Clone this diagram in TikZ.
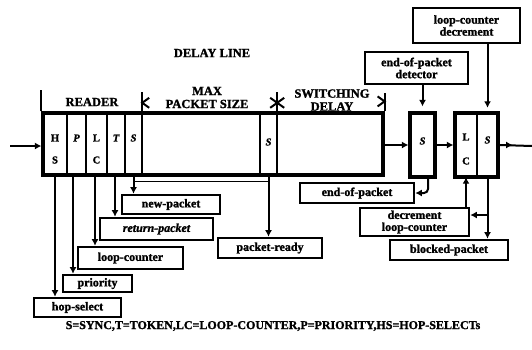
\documentclass[tikz,border=0pt]{standalone}
\usepackage{fontspec}
\setmainfont{Liberation Serif}[BoldFeatures={FakeBold=1.5},BoldItalicFeatures={FakeBold=1.5}]
\usetikzlibrary{arrows.meta,calc}
\begin{document}
\begin{tikzpicture}[x=1pt,y=-1pt,
  txt/.style={font=\fontsize{12.5}{13}\selectfont\bfseries,inner sep=0pt,align=center},
  ltxt/.style={font=\fontsize{12}{12}\selectfont\bfseries,inner sep=0pt,align=center},
  lbl/.style={ltxt,draw,line width=2.6pt,minimum width=#1},
  blk/.style={draw,line width=3.2pt,inner sep=0pt},
  cell/.style={inner sep=0pt,minimum height=62pt,minimum width=#1},
  div/.style={line width=1.9pt},
  conn/.style={line width=2pt},
  arr/.style={line width=2pt,-{Latex[length=6.5pt,width=7pt]}},
  tip/.style={line width=2pt},
  letter/.style={font=\fontsize{10.5}{11}\selectfont\bfseries,inner sep=0pt}]
\useasboundingbox (0,0) rectangle (532,349);

% ---- main delay line box
\node[blk,minimum width=340pt,minimum height=62pt] (main) at (213,144) {};
\node[cell=24pt] (hs) at (55,144) {};
\node[cell=19pt] (p)  at (76.5,144) {};
\node[cell=21pt] (lc) at (96.5,144) {};
\node[cell=18pt] (t)  at (116,144) {};
\node[cell=17pt] (s1) at (133.5,144) {};
\node[cell=17pt] (s2) at (268.5,144) {};
\foreach \c in {hs,p,lc,t,s1} \draw[div] (\c.north east) -- (\c.south east);
\draw[div] (s2.north west) -- (s2.south west);
\draw[div] (s2.north east) -- (s2.south east);

\node[letter] (lH) at (55,138) {H};
\node[letter] (lHS) at (55,160) {S};
\node[letter] (lP) at (76.5,138) {\itshape P};
\node[letter] (lL) at (96.5,138) {L};
\node[letter] (lC) at (96.5,160) {C};
\node[letter] (lT) at (116,138) {\itshape T};
\node[letter] (lS1) at (133.5,138) {\itshape S};
\node[letter] (lS2) at (268.5,142) {\itshape S};

% ---- header dimension marks
\draw[tip] (main.north west) -- ++(0,-21);
\draw[tip] (s1.north east) -- ++(0,-21);
\draw[tip] ($(s1.north east)+(7,-15)$) -- ++(-7,5) -- ++(7,5);
\draw[tip] (s2.north east) -- ++(0,-21);
\draw[tip] ($(s2.north east)+(-7,-15)$) -- ++(7,5) -- ++(-7,5);
\draw[tip] ($(s2.north east)+(7,-15)$) -- ++(-7,5) -- ++(7,5);
\draw[tip] (main.north east) -- ++(0,-18);
\draw[tip] ($(main.north east)+(-7,-15)$) -- ++(7,5) -- ++(-7,5);

\node[txt] (delay) at (212,53) {DELAY LINE};
\node[txt] (reader) at (92,102) {READER};
\node[txt] (maxps) at (207,97.5) {MAX\\PACKET SIZE};
\node[txt] (swdel) at (332,100) {SWITCHING\\DELAY};

% ---- right-hand boxes
\node[blk,minimum width=25pt,minimum height=64pt] (sbox) at (422.5,145) {};
\node[letter] (lSb) at (422.5,141) {\itshape S};
\node[blk,minimum width=43pt,minimum height=64pt] (lcs) at (476.5,145) {};
\node[cell=22pt,minimum height=64pt] (lccell) at (466,145) {};
\node[cell=21pt,minimum height=64pt] (scell) at (487.5,145) {};
\draw[div] (lccell.north east) -- (lccell.south east);
\node[letter] (lL2) at (466,137) {L};
\node[letter] (lC2) at (466,161) {C};
\node[letter] (lS3) at (487.5,140) {\itshape S};

\node[lbl=103pt,minimum height=32pt] (detector) at (416.5,68) {end-of-packet\\detector};
\node[lbl=107pt,minimum height=35pt] (lcdec) at (466.5,25.5) {loop-counter\\decrement};

% ---- main path
\coordinate (in) at (10,146);
\coordinate (out) at (532,146);
\draw[arr] (in) -- (in -| main.west);
\draw[arr] (main.east |- sbox.west) -- (sbox.west);
\draw[arr] (sbox.east) -- (lcs.west);
\draw[conn] (lcs.east) -- (out);
\draw[arr] (lcs.east) -- ++(13,0);
\draw[arr,shorten >=5pt] (sbox.north |- detector.south) -- (sbox.north);
\draw[arr,shorten >=5pt] (scell.north |- lcdec.south) -- (scell.north);

% ---- lower label boxes (left)
\node[lbl=87pt,minimum height=19pt] (hopsel) at (77.5,307.5) {hop-select};
\node[lbl=69pt,minimum height=17pt] (prio) at (97.5,283.5) {priority};
\node[lbl=105pt,minimum height=22pt] (loopc) at (130.5,258) {loop-counter};
\node[lbl=113pt,minimum height=22pt] (retp) at (156.5,229) {\itshape return-packet};
\node[lbl=98pt,minimum height=19pt] (newp) at (171,204.5) {new-packet};
\node[lbl=104pt,minimum height=20pt] (pready) at (270,248) {packet-ready};

\draw[arr] (hs.south) -- (hs.south |- hopsel.north);
\draw[arr] ([xshift=-3.5pt]p.south) -- ([xshift=-3.5pt]p.south |- prio.north);
\draw[arr] ([xshift=-1.5pt]lc.south) -- ([xshift=-1.5pt]lc.south |- loopc.north);
\draw[arr] ([xshift=-1pt]t.south) -- ([xshift=-1pt]t.south |- retp.north);
\draw[arr] (s1.south) -- (s1.south |- newp.north);
\draw[arr] (s2.south) -- (s2.south |- pready.north);
\draw[line width=1.2pt] ([yshift=-6pt]s1.south) -- ([yshift=-6pt]s2.south);

% ---- lower label boxes (right)
\node[lbl=114pt,minimum height=20pt] (eop) at (357,193) {end-of-packet};
\node[lbl=109pt,minimum height=28pt] (decr) at (414.5,222) {decrement\\loop-counter};
\node[lbl=118pt,minimum height=20pt] (blocked) at (449,250) {blocked-packet};
\coordinate (dj) at ([yshift=7pt]decr.east);

\draw[arr,rounded corners=4pt] ([xshift=5.5pt]sbox.south) |- (eop.east);
\draw[arr] (decr.north -| lccell.south) -- (lccell.south);
\draw[arr] (scell.south) -- (scell.south |- blocked.north);
\draw[arr] (scell.south |- dj) -- (dj);

% ---- legend
\node[txt,font=\fontsize{12}{13}\selectfont\bfseries] (legend) at (273,326) {S=SYNC,T=TOKEN,LC=LOOP-COUNTER,P=PRIORITY,HS=HOP-SELECTs};
\end{tikzpicture}
\end{document}
